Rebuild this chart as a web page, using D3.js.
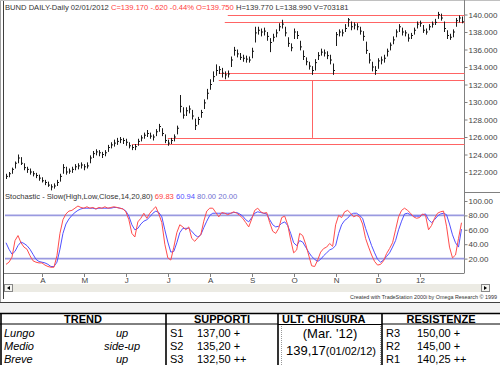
<!DOCTYPE html>
<html>
<head>
<meta charset="utf-8">
<script src="https://cdn.jsdelivr.net/npm/d3@7"></script>
<style>
body { margin: 0; background: #fff; }
svg { display: block; font-family: Arial, "Liberation Sans", sans-serif; }
</style>
</head>
<body>
<svg id="chart"></svg>
<script>
// Width and height for the SVG
var width = 500, height = 365;

// Daily bars (one bar every ~3px)
var closes = [121.5,121.8,122.3,123.0,123.6,123.0,122.5,122.3,122.0,121.8,121.6,121.3,121.0,120.8,120.5,120.3,120.4,120.8,121.5,122.5,
  122.0,122.1,122.3,122.6,122.7,122.8,122.6,122.7,123.6,124.1,124.3,124.2,124.0,124.2,124.8,125.1,125.3,125.5,125.7,125.6,
  125.4,125.0,124.8,124.9,125.5,125.9,126.2,126.4,126.1,126.0,126.6,127.2,126.4,125.6,125.3,125.6,126.0,127.0,129.5,128.5,
  129.0,129.2,128.4,127.3,128.0,128.8,129.9,131.0,132.0,132.9,133.6,133.7,133.3,133.1,133.2,134.8,135.9,135.5,135.1,135.0,
  134.9,134.8,135.8,137.9,138.2,138.0,138.1,137.5,136.8,137.4,137.9,138.6,138.9,137.9,136.7,136.2,138.0,137.6,136.3,135.2,
  134.6,134.1,133.6,134.5,135.3,135.7,135.6,135.3,134.8,133.6,137.7,138.0,137.9,138.4,139.4,138.6,138.8,138.6,138.1,137.5,
  135.9,134.8,134.0,133.6,134.7,134.8,135.0,135.8,136.5,137.1,138.0,138.6,138.0,137.9,137.3,137.6,138.2,138.9,139.0,138.2,
  138.0,138.6,138.9,139.1,140.0,139.6,138.4,137.6,137.4,138.0,139.3,139.6,139.17];
var highs = [121.8,122.0,122.5,123.2,124.0,123.7,123.0,122.6,122.4,122.1,121.9,121.7,121.4,121.1,120.9,120.6,120.7,121.1,121.8,122.9,
  122.6,122.4,122.6,122.9,123.0,123.1,122.9,123.1,123.9,124.4,124.6,124.5,124.3,124.5,125.1,125.4,125.7,125.9,126.0,125.9,
  125.8,125.4,125.1,125.2,125.8,126.2,126.5,126.8,126.5,126.3,126.9,127.5,127.0,126.3,125.7,125.9,126.3,127.3,130.8,129.4,
  129.4,129.6,129.1,128.1,128.3,129.1,130.3,131.5,132.6,133.5,134.3,134.1,133.9,133.5,133.6,135.2,136.3,136.0,135.6,135.4,
  135.3,135.2,136.2,138.6,138.6,138.4,138.5,138.0,137.3,137.8,138.3,139.0,139.4,138.6,137.4,136.7,138.4,138.1,137.0,135.9,
  135.1,134.6,134.1,134.9,135.7,136.1,136.0,135.8,135.4,134.4,138.0,138.3,138.3,138.9,139.6,139.2,139.1,139.0,138.6,138.1,
  136.9,135.6,134.6,134.1,135.0,135.2,135.4,136.1,136.8,137.5,138.3,138.9,138.5,138.2,137.8,137.9,138.5,139.2,139.3,138.8,
  138.4,138.9,139.2,139.5,140.3,140.1,139.2,138.2,137.8,138.3,139.6,139.9,139.77];
var lows = [121.2,121.4,121.8,122.4,123.0,122.8,122.2,121.9,121.7,121.5,121.3,121.0,120.8,120.5,120.3,119.9,120.1,120.4,120.9,121.8,
  121.7,121.8,121.9,122.2,122.3,122.4,122.2,122.4,123.0,123.6,123.9,123.8,123.6,123.8,124.3,124.7,124.9,125.1,125.3,125.2,
  125.0,124.7,124.5,124.5,125.0,125.5,125.8,126.0,125.8,125.6,126.1,126.6,126.1,125.3,125.0,125.2,125.5,126.3,128.8,128.1,
  128.4,128.7,128.0,126.8,127.4,128.2,129.2,130.3,131.4,132.3,133.0,133.2,132.8,132.6,132.8,134.0,135.3,135.1,134.8,134.6,
  134.5,134.5,135.0,136.8,137.7,137.5,137.6,137.0,135.7,136.9,137.4,138.1,138.4,137.5,136.3,135.8,137.2,137.2,135.9,134.8,
  134.2,133.7,133.1,133.6,134.8,135.3,135.2,134.9,134.3,133.1,136.4,137.5,137.5,138.0,138.6,138.2,138.3,138.2,137.7,137.0,
  135.5,134.4,133.5,133.1,133.8,134.3,134.5,135.2,135.9,136.6,137.4,138.0,137.6,137.5,136.9,137.2,137.7,138.4,138.6,137.9,
  137.7,138.2,138.5,138.8,139.5,139.3,138.0,137.2,137.1,137.4,138.6,139.1,138.99];

// Stochastic slow %K and %D
var stochK = [12,15,22,45,52,42,36,33,24,17,15,14,14,11,9,8,8,24,55,74,
  82,86,87,90,93,91,90,92,90,91,89,91,90,92,90,91,92,91,90,89,
  85,74,55,50,71,76,83,76,83,88,92,82,70,40,21,18,36,56,67,64,
  60,64,48,44,49,53,72,86,90,90,84,78,84,83,81,83,85,83,80,76,
  70,64,75,87,90,85,83,84,70,58,55,62,77,79,67,46,28,32,55,52,
  40,25,10,9,18,29,34,36,41,37,67,80,77,85,87,83,78,80,78,68,
  48,36,25,16,11,12,17,27,34,42,60,78,87,90,87,83,78,76,77,82,
  80,60,66,76,83,85,86,65,36,21,25,48,69.83];
var stochD = [42,33,26,30,38,43,41,38,33,26,19,16,15,14,12,9,9,15,33,55,
  68,75,80,84,87,89,90,90,90,90,89,90,90,90,90,90,91,91,90,89,
  86,79,67,60,62,68,72,74,78,83,86,84,78,60,43,29,30,42,56,62,
  62,62,58,53,50,53,63,72,80,83,83,83,83,83,83,83,84,84,82,79,
  74,71,77,83,85,84,83,82,74,67,64,65,69,71,66,55,42,38,45,43,
  36,29,23,19,16,19,24,28,32,34,38,55,67,73,76,81,83,83,80,76,
  62,50,38,28,19,15,18,23,28,36,45,60,72,82,83,81,79,79,79,81,
  82,74,70,74,79,82,83,81,68,53,42,36,60.94];

// Month labels and the bar where each starts
var months = ["A", "M", "J", "J", "A", "S", "O", "N", "D", "12"];
var monthStart = [12, 26, 40, 54, 68, 82, 96, 110, 124, 138];

// Support / resistance lines drawn on the price panel
var levels = [140.0, 139.2, 133.3, 132.5, 125.9, 125.2];
var levelStart = [74, 73, 71, 71, 54, 42];
var projection = {bar: 102, from: 132.5, to: 125.9};

var priceTicks = [122, 124, 126, 128, 130, 132, 134, 136, 138, 140];
var stochTicks = [20, 40, 60, 80, 100];
var stochBands = [80, 20];

// Table rows
var trendRows = [["Lungo", "up"], ["Medio", "side-up"], ["Breve", "up"]];
var supports = [["S1", "137,00 +"], ["S2", "135,20 +"], ["S3", "132,50 ++"]];
var resistances = [["R3", "150,00 +"], ["R2", "145,00 +"], ["R1", "140,25 ++"]];

var svg = d3.select("#chart")
  .attr("width", width)
  .attr("height", height)
  .attr("viewBox", [0, 0, width, height]);

var axisX = 464.5;
var x = d3.scaleLinear().domain([0, closes.length - 1]).range([6, 461.5]);
var y = d3.scaleLinear().domain([122, 140]).range([172, 14.5]);
var ys = d3.scaleLinear().domain([0, 100]).range([273, 201]);

// window frame
svg.append("rect").attr("x", 0).attr("y", 0).attr("width", width).attr("height", 303).attr("fill", "#fff");
svg.append("line").attr("x1", 0.5).attr("x2", 0.5).attr("y1", 0).attr("y2", 303).attr("stroke", "#a0a0a0");
svg.append("line").attr("x1", 3.5).attr("x2", 3.5).attr("y1", 0).attr("y2", 299).attr("stroke", "#404040");
svg.append("line").attr("x1", 0).attr("x2", width).attr("y1", 302.5).attr("y2", 302.5).attr("stroke", "#404040");
svg.append("line").attr("x1", 0).attr("x2", width).attr("y1", 0.5).attr("y2", 0.5).attr("stroke", "#c0c0c0");

// right axis line and panel separator
svg.append("line").attr("x1", axisX).attr("x2", axisX).attr("y1", 0).attr("y2", 273).attr("stroke", "#808080");
svg.append("line").attr("x1", axisX).attr("x2", width).attr("y1", 192.5).attr("y2", 192.5).attr("stroke", "#808080");

// support lines
var red = "#ff6464";
svg.append("g").selectAll("line")
  .data(levels)
  .enter().append("line")
  .attr("x1", function(d, i) { return x(levelStart[i]); })
  .attr("x2", axisX)
  .attr("y1", function(d) { return Math.round(y(d)) + 0.5; })
  .attr("y2", function(d) { return Math.round(y(d)) + 0.5; })
  .attr("stroke", red);
svg.append("line")
  .attr("x1", Math.round(x(projection.bar)) + 0.5).attr("x2", Math.round(x(projection.bar)) + 0.5)
  .attr("y1", y(projection.from)).attr("y2", y(projection.to))
  .attr("stroke", red);

// price bars
var bars = svg.append("g").attr("stroke", "#1a1a1a").attr("stroke-width", 1);
closes.forEach(function(c, i) {
  var bx = Math.round(x(i)) + 0.5;
  bars.append("line").attr("x1", bx).attr("x2", bx).attr("y1", y(highs[i])).attr("y2", y(lows[i]));
  bars.append("line").attr("x1", bx).attr("x2", bx + 1.5).attr("y1", y(c)).attr("y2", y(c));
});

// price axis
var priceAxis = svg.append("g")
  .attr("transform", "translate(" + axisX + ",0)")
  .call(d3.axisRight(y).tickValues(priceTicks).tickSize(3).tickPadding(1).tickFormat(d3.format(".3f")));
priceAxis.select(".domain").remove();
priceAxis.selectAll("line").attr("stroke", "#808080");
priceAxis.selectAll("text").attr("font-size", 8).attr("fill", "#444").attr("font-family", "Arial, 'Liberation Sans', sans-serif");

// stochastic bands
svg.append("g").selectAll("line")
  .data(stochBands)
  .enter().append("line")
  .attr("x1", 5).attr("x2", axisX)
  .attr("y1", function(d) { return ys(d); })
  .attr("y2", function(d) { return ys(d); })
  .attr("stroke", "#9a9ae0").attr("stroke-width", 1.6);

var line = d3.line().x(function(d, i) { return x(i); }).y(function(d) { return ys(d); });
svg.append("path").datum(stochD).attr("d", line).attr("fill", "none").attr("stroke", "#5050ff").attr("stroke-width", 1);
svg.append("path").datum(stochK).attr("d", line).attr("fill", "none").attr("stroke", "#ff4c4c").attr("stroke-width", 1);

var stochAxis = svg.append("g")
  .attr("transform", "translate(" + axisX + ",0)")
  .call(d3.axisRight(ys).tickValues(stochTicks).tickSize(3).tickPadding(1).tickFormat(d3.format(".2f")));
stochAxis.select(".domain").remove();
stochAxis.selectAll("line").attr("stroke", "#808080");
stochAxis.selectAll("text").attr("font-size", 8).attr("fill", "#444").attr("font-family", "Arial, 'Liberation Sans', sans-serif");

// time axis
svg.append("line").attr("x1", 4).attr("x2", axisX).attr("y1", 273.5).attr("y2", 273.5).attr("stroke", "#808080");
svg.append("g").selectAll("line")
  .data(monthStart)
  .enter().append("line")
  .attr("x1", function(d) { return Math.round(x(d)) + 0.5; })
  .attr("x2", function(d) { return Math.round(x(d)) + 0.5; })
  .attr("y1", 273).attr("y2", 277)
  .attr("stroke", "#808080");
svg.append("g").selectAll("text")
  .data(months)
  .enter().append("text")
  .attr("x", function(d, i) { return x(monthStart[i]) + 1; })
  .attr("y", 283)
  .attr("text-anchor", "middle")
  .attr("font-size", 8).attr("fill", "#444")
  .text(function(d) { return d; });

// titles
var title = svg.append("text").attr("x", 5).attr("y", 10).attr("font-size", 7.6);
title.append("tspan").attr("fill", "#333").text("BUND DAILY-Daily   02/01/2012  ");
title.append("tspan").attr("fill", "#ff4040").text("C=139.170  -.620  -0.44%  O=139.750  ");
title.append("tspan").attr("fill", "#333").text("H=139.770  L=138.990  V=703181");

var stTitle = svg.append("text").attr("x", 5).attr("y", 199).attr("font-size", 7.6);
stTitle.append("tspan").attr("fill", "#333").text("Stochastic - Slow(High,Low,Close,14,20,80)  ");
stTitle.append("tspan").attr("fill", "#ff4040").text("69.83  ");
stTitle.append("tspan").attr("fill", "#5050ff").text(" 60.94  ");
stTitle.append("tspan").attr("fill", "#7070d0").text(" 80.00  ");
stTitle.append("tspan").attr("fill", "#7070d0").text(" 20.00");

// scroll bar
svg.append("rect").attr("x", 4).attr("y", 284).attr("width", 486).attr("height", 8).attr("fill", "#ecebe4");
svg.append("rect").attr("x", 4.5).attr("y", 284.5).attr("width", 8).attr("height", 7).attr("fill", "#f4f4f0").attr("stroke", "#888");
svg.append("rect").attr("x", 481.5).attr("y", 284.5).attr("width", 8).attr("height", 7).attr("fill", "#f4f4f0").attr("stroke", "#888");
svg.append("path").attr("d", "M7,288 L10,286 L10,290 Z").attr("fill", "#000");
svg.append("path").attr("d", "M487,288 L484,286 L484,290 Z").attr("fill", "#000");
svg.append("text").attr("x", 497).attr("y", 299).attr("text-anchor", "end")
  .attr("font-size", 5.4).attr("fill", "#333")
  .text("Created with TradeStation 2000i by Omega Research \u00a9 1999");

// table
var table = svg.append("g").attr("font-size", 11).attr("fill", "#000");
table.append("rect").attr("x", 0).attr("y", 303).attr("width", width).attr("height", 10).attr("fill", "#f2f2f2");
[[0, 313.5, width, 313.5], [0, 324, 278, 324], [382, 324, width, 324], [278, 324.5, 382, 324.5]].forEach(function(l) {
  table.append("line").attr("x1", l[0]).attr("y1", l[1]).attr("x2", l[2]).attr("y2", l[3])
    .attr("stroke", "#000").attr("stroke-width", l[1] === 313.5 ? 1.6 : 1);
});
[1, 166, 278, 382].forEach(function(vx) {
  table.append("line").attr("x1", vx).attr("x2", vx).attr("y1", 313).attr("y2", height)
    .attr("stroke", "#000").attr("stroke-width", 1.6);
});
[281.5, 380.5].forEach(function(vx) {
  table.append("line").attr("x1", vx).attr("x2", vx).attr("y1", 326).attr("y2", height)
    .attr("stroke", "#999").attr("stroke-dasharray", "1,1");
});

var headers = [["TREND", 83, "middle"], ["SUPPORTI", 222, "middle"], ["ULT. CHIUSURA", 282, "start"], ["RESISTENZE", 441, "middle"]];
headers.forEach(function(h) {
  table.append("text").attr("x", h[1]).attr("y", 322.5).attr("text-anchor", h[2])
    .attr("font-weight", "bold").text(h[0]);
});

var rowY = [337, 350, 363];
trendRows.forEach(function(r, i) {
  table.append("text").attr("x", 4).attr("y", rowY[i]).attr("font-style", "italic").text(r[0]);
  table.append("text").attr("x", 122).attr("y", rowY[i]).attr("font-style", "italic").attr("text-anchor", "middle").text(r[1]);
});
supports.forEach(function(r, i) {
  table.append("text").attr("x", 170).attr("y", rowY[i]).text(r[0]);
  table.append("text").attr("x", 197).attr("y", rowY[i]).text(r[1]);
});
resistances.forEach(function(r, i) {
  table.append("text").attr("x", 386).attr("y", rowY[i]).text(r[0]);
  table.append("text").attr("x", 417).attr("y", rowY[i]).text(r[1]);
});
table.append("text").attr("x", 330).attr("y", 338).attr("text-anchor", "middle").attr("font-size", 13).text("(Mar. '12)");
var last = table.append("text").attr("x", 286).attr("y", 354.5);
last.append("tspan").attr("font-size", 13).text("139,17");
last.append("tspan").attr("font-size", 11).text("(01/02/12)");
</script>
</body>
</html>
